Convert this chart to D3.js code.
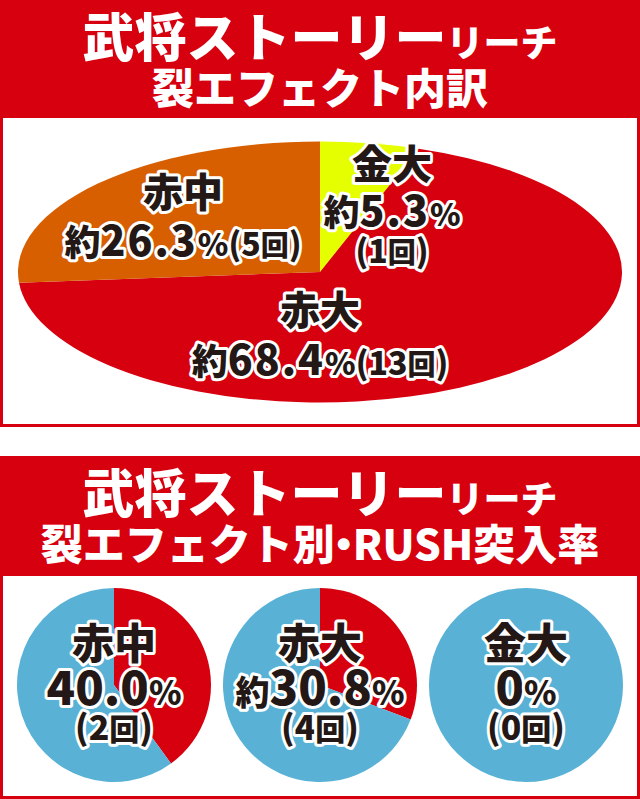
<!DOCTYPE html>
<html>
<head>
<meta charset="utf-8">
<script src="https://cdn.jsdelivr.net/npm/d3@7"></script>
<style>
  html, body { margin: 0; padding: 0; background: #ffffff; }
  svg { display: block; }
</style>
</head>
<body>
<svg id="chart"></svg>
<script>
// --------- données ----------
const effectNames = ["金大", "赤大", "赤中"];
const effectShares = [5.3, 68.4, 26.3];
const effectCounts = [1, 13, 5];

const rushNames = ["赤中", "赤大", "金大"];
const rushRates = [40.0, 30.8, 0];
const rushCounts = [2, 4, 0];
const rushApprox = [false, true, false];

const titleMain = "武将ストーリー";
const titleSub = "リーチ";
const title1Line2 = ["裂エフェクト内訳"];
const title2Line2 = ["裂エフェクト別", "・", "RUSH突入率"];

// --------- styles ----------
const RED = "#d7000f";
const colors = {
  "金大": "#e6ff00",
  "赤大": RED,
  "赤中": "#d75f00"
};
const BLUE = "#59b2d5";
const FONT = "'Noto Sans CJK JP', 'Noto Sans', sans-serif";
const WEIGHT = 900;

const width = 640;
const height = 799;

const svg = d3.select("#chart")
  .attr("width", width)
  .attr("height", height);

// bloc avec titre rouge et cadre
function drawPanel(top, headerBottom, bottom, line2, y1, y2) {
  svg.append("rect")
    .attr("x", 0).attr("y", top)
    .attr("width", width).attr("height", bottom - top)
    .attr("fill", RED);
  svg.append("rect")
    .attr("x", 3).attr("y", headerBottom)
    .attr("width", width - 6).attr("height", bottom - 3 - headerBottom)
    .attr("fill", "#ffffff");

  const t1 = svg.append("text")
    .attr("x", width / 2).attr("y", y1)
    .attr("text-anchor", "middle")
    .attr("font-family", FONT)
    .attr("font-weight", WEIGHT)
    .attr("fill", "#ffffff");
  t1.append("tspan").attr("font-size", 52).text(titleMain);
  t1.append("tspan").attr("font-size", 37).text(titleSub);

  const t2 = svg.append("text")
    .attr("x", width / 2).attr("y", y2)
    .attr("text-anchor", "middle")
    .attr("font-family", FONT)
    .attr("font-weight", WEIGHT)
    .attr("font-size", 42)
    .attr("fill", "#ffffff");
  line2.forEach(s => {
    const sp = t2.append("tspan").text(s);
    // point central plus serré
    if (s === "・") sp.attr("dx", -12).attr("letter-spacing", -12);
  });
}

// texte noir avec contour blanc
function outlined(x, y, parts) {
  const t = svg.append("text")
    .attr("x", x).attr("y", y)
    .attr("text-anchor", "middle")
    .attr("font-family", FONT)
    .attr("font-weight", WEIGHT)
    .attr("fill", "#231815")
    .attr("stroke", "#ffffff")
    .attr("stroke-width", 6)
    .attr("stroke-linejoin", "round")
    .attr("paint-order", "stroke");
  parts.forEach(p => {
    const s = t.append("tspan")
      .attr("font-size", p.size)
      .text(p.t);
    if (p.ls) s.attr("letter-spacing", p.ls);
  });
  return t;
}

function countParts(n, size) {
  return [
    { t: "(", size: size + 4 },
    { t: String(n), size: size + 4 },
    { t: "回", size: size },
    { t: ")", size: size + 4 }
  ];
}

// ---------- bloc 1 : ellipse ----------
drawPanel(0, 118, 427, title1Line2, 57, 104);

const pie = d3.pie().sort(null).value(d => d.share);
const topData = effectNames.map((n, i) => ({
  name: n, share: effectShares[i], count: effectCounts[i]
}));
const arc100 = d3.arc().innerRadius(0).outerRadius(100);

const ell = svg.append("g")
  .attr("transform", "translate(320,272) scale(3.02,1.305)");
ell.selectAll("path")
  .data(pie(topData))
  .join("path")
  .attr("d", arc100)
  .attr("fill", d => colors[d.data.name]);

// positions des étiquettes
const topLayout = {
  "金大": { x: 392, ys: [179, 226, 263], split: true },
  "赤大": { x: 320, ys: [325, 375], split: false },
  "赤中": { x: 183, ys: [207, 256], split: false }
};

topData.forEach(d => {
  const L = topLayout[d.name];
  outlined(L.x, L.ys[0], [{ t: d.name, size: 40 }]);
  const pct = [
    { t: "約", size: 36 },
    { t: d.share.toFixed(1), size: 41, ls: 2 },
    { t: "%", size: 31 }
  ];
  const cnt = countParts(d.count, 28);
  if (L.split) {
    outlined(L.x, L.ys[1], pct);
    outlined(L.x, L.ys[2], cnt);
  } else {
    outlined(L.x, L.ys[1], pct.concat(cnt));
  }
});

// ---------- bloc 2 : cercles ----------
drawPanel(456, 576, 799, title2Line2, 513, 560);

const xPos = d3.scalePoint()
  .domain(rushNames)
  .range([114, 526]);
const arcR = d3.arc().innerRadius(0).outerRadius(97);
const pie2 = d3.pie().sort(null);

rushNames.forEach((n, i) => {
  const g = svg.append("g")
    .attr("transform", `translate(${xPos(n)},685)`);
  g.selectAll("path")
    .data(pie2([rushRates[i], 100 - rushRates[i]]))
    .join("path")
    .attr("d", arcR)
    .attr("fill", (d, j) => j === 0 ? RED : BLUE);

  const x = xPos(n);
  outlined(x, 659, [{ t: n, size: 42 }]);
  const parts = [];
  if (rushApprox[i]) parts.push({ t: "約", size: 34 });
  parts.push({ t: rushRates[i] === 0 ? "0" : rushRates[i].toFixed(1), size: 47 });
  parts.push({ t: "%", size: 33 });
  outlined(x, 705, parts);
  outlined(x, 740, countParts(rushCounts[i], 30));
});
</script>
</body>
</html>
